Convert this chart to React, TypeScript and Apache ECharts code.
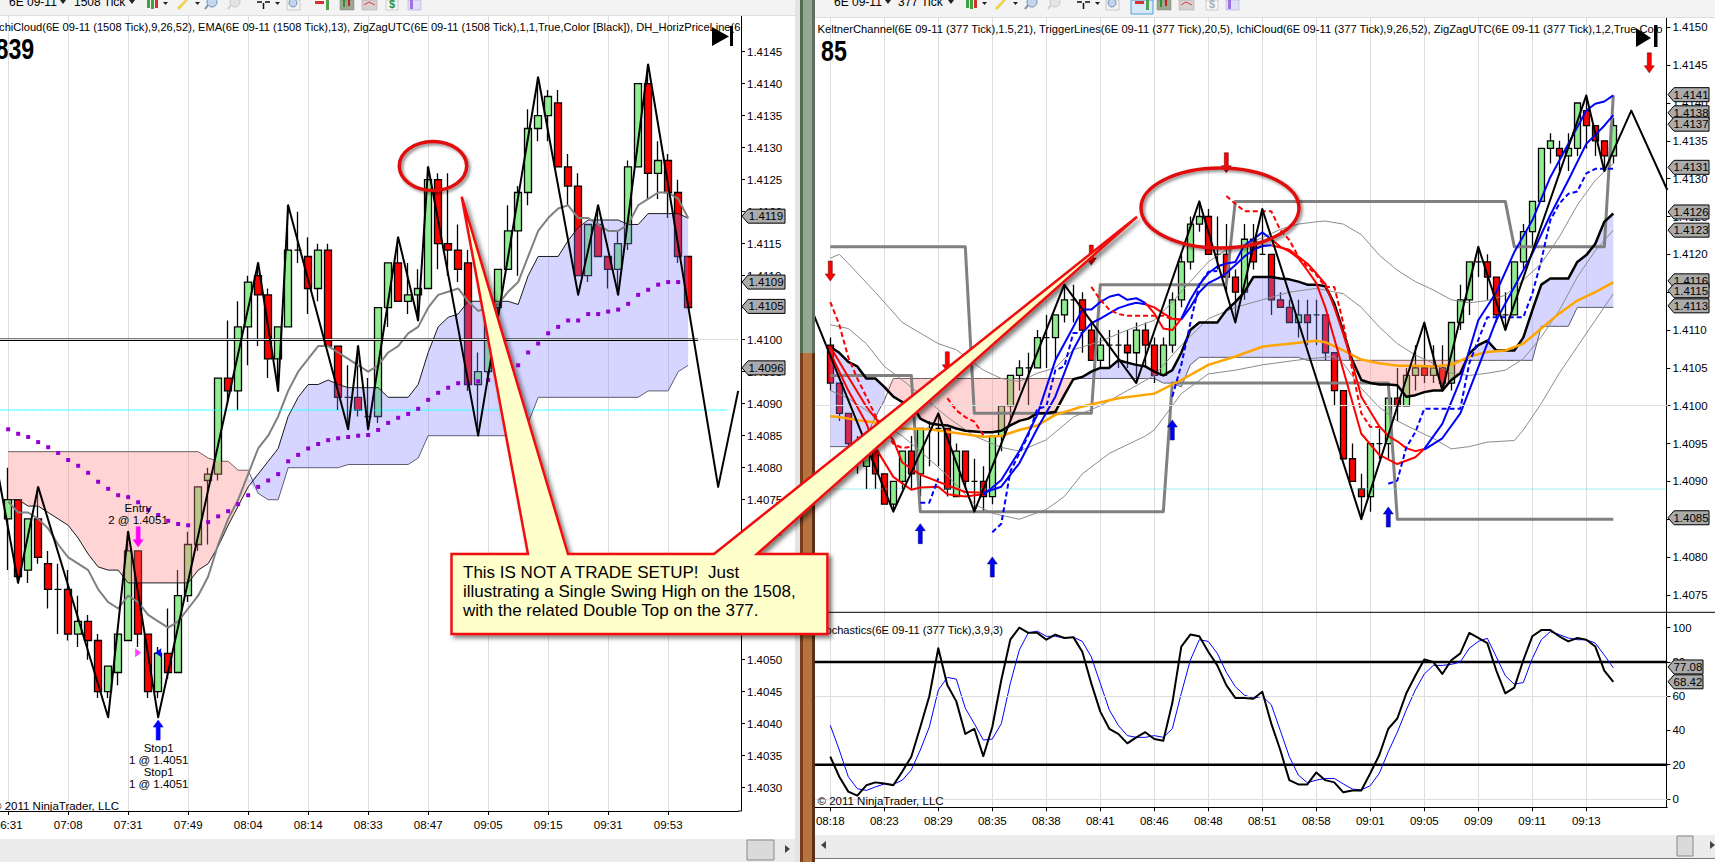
import React, { useEffect, useRef } from "react";
import * as echarts from "echarts";

const FONT = "Liberation Sans";

// ---------- Left chart (1508 Tick) ----------
const leftTickLabels = ["06:31","07:08","07:31","07:49","08:04","08:14","08:33","08:47","09:05","09:15","09:31","09:53"];
const leftGridPrices = [1.4135,1.412,1.4105,1.409,1.4075,1.406,1.4045,1.403];
const leftAxisPrices = [1.4145,1.414,1.4135,1.413,1.4125,1.412,1.4115,1.411,1.4105,1.41,1.4095,1.409,1.4085,1.408,1.4075,1.407,1.4065,1.406,1.4055,1.405,1.4045,1.404,1.4035,1.403];
// open, close, low, high
const leftCandles = [
[1.4072,1.4075,1.4064,1.408],[1.4075,1.4063,1.4062,1.4075],[1.4064,1.4072,1.4062,1.4072],[1.4072,1.4066,1.4065,1.4077],
[1.4065,1.4061,1.4058,1.4067],[1.4061,1.4061,1.4054,1.4065],[1.4061,1.4054,1.4053,1.4064],[1.4054,1.4056,1.4052,1.406],
[1.4056,1.4053,1.405,1.4057],[1.4053,1.4045,1.4044,1.4054],[1.4045,1.4049,1.4044,1.4049],[1.4048,1.4054,1.4046,1.4054],
[1.4053,1.4067,1.4053,1.407],[1.4067,1.4054,1.4052,1.4067],[1.4054,1.4045,1.4044,1.4054],[1.4045,1.4051,1.4044,1.4052],
[1.4051,1.4048,1.4047,1.4058],[1.4048,1.406,1.4048,1.4064],[1.406,1.4068,1.4059,1.407],[1.4068,1.4077,1.4067,1.4077],
[1.4078,1.4079,1.4068,1.408],[1.4079,1.4094,1.4078,1.4094],[1.4094,1.4092,1.409,1.4103],[1.4092,1.4102,1.4089,1.4106],
[1.4102,1.4109,1.4096,1.411],[1.411,1.4107,1.4099,1.4112],[1.4107,1.4097,1.4094,1.4108],[1.4097,1.4102,1.4092,1.4102],
[1.4102,1.4114,1.4102,1.4121],[1.4114,1.4114,1.4112,1.412],[1.4113,1.4108,1.4104,1.4116],[1.4108,1.4114,1.4106,1.4115],
[1.4114,1.4099,1.4099,1.4115],[1.4099,1.4091,1.4089,1.4099],[1.4091,1.4091,1.4086,1.4096],[1.4091,1.4089,1.4088,1.4099],
[1.4088,1.4088,1.4086,1.4094],[1.4088,1.4105,1.4087,1.4105],[1.4105,1.4112,1.4102,1.4112],[1.4112,1.4106,1.4106,1.4116],
[1.4106,1.4107,1.4104,1.4112],[1.4107,1.4108,1.4103,1.4111],[1.4108,1.4125,1.4108,1.4127],[1.4125,1.4115,1.4111,1.4126],
[1.4115,1.4114,1.411,1.4126],[1.4114,1.4111,1.4109,1.4118],[1.4112,1.4093,1.4092,1.4114],[1.4093,1.4095,1.4086,1.4098],
[1.4095,1.4105,1.4094,1.4105],[1.4105,1.4111,1.4104,1.4111],[1.4111,1.4117,1.4111,1.4121],[1.4117,1.4123,1.411,1.4124],
[1.4123,1.4133,1.4121,1.4136],[1.4133,1.4135,1.4131,1.4141],[1.4135,1.4138,1.4131,1.4139],[1.4137,1.4127,1.4127,1.4139],
[1.4127,1.4124,1.4121,1.4129],[1.4124,1.411,1.411,1.4126],[1.411,1.4118,1.4109,1.4118],[1.4118,1.4113,1.4113,1.4121],
[1.4113,1.4111,1.4108,1.4113],[1.4111,1.4115,1.4107,1.4117],[1.4115,1.4127,1.4114,1.4128],[1.4127,1.414,1.4127,1.414],
[1.414,1.4126,1.4122,1.4143],[1.4126,1.4128,1.4122,1.4131],[1.4128,1.4123,1.4119,1.4129],[1.4123,1.4113,1.4112,1.4125],
[1.4113,1.4105,1.4105,1.4113]];
const leftZigZag = [[-1,1.4079],[1,1.4062],[3,1.4077],[10,1.4041],[12,1.407],[15,1.4041],[25,1.4112],[27,1.4092],[28,1.4121],[34,1.4086],[35,1.4099],[36,1.4086],[39,1.4116],[41,1.4103],[42,1.4127],[47,1.4085],[53,1.4141],[57,1.4107],[59,1.4121],[61,1.4107],[64,1.4143],[71,1.4077],[73,1.4092]];
const leftEma = [1.40747,1.4073,1.4073,1.4072,1.40705,1.4068,1.4066,1.4065,1.4064,1.4061,1.4059,1.4058,1.406,1.4059,1.4057,1.4056,1.4055,1.4056,1.4058,1.406,1.4063,1.4068,1.4072,1.4075,1.4079,1.4083,1.4085,1.4088,1.4092,1.4095,1.4097,1.4099,1.4099,1.4098,1.4097,1.4096,1.4095,1.4096,1.4098,1.4099,1.4101,1.4102,1.4105,1.4107,1.41075,1.4108,1.4106,1.41045,1.4105,1.41055,1.41075,1.4109,1.4113,1.4117,1.4119,1.41205,1.4121,1.4119,1.4119,1.4118,1.4117,1.4117,1.4118,1.4121,1.4122,1.4123,1.4123,1.4122,1.4119];
const leftA = [1.4075,1.4075,1.4074,1.4074,1.4073,1.4072,1.4071,1.4069,1.40665,1.40645,1.4064,1.4064,1.4062,1.4062,1.4062,1.4062,1.4062,1.4062,1.4062,1.4064,1.4065,1.40677,1.4071,1.4074,1.4077,1.4079,1.4081,1.4083,1.4088,1.4091,1.4093,1.4093,1.40937,1.4093,1.40925,1.40925,1.40925,1.40925,1.4091,1.4091,1.4091,1.4093,1.4098,1.4102,1.41035,1.4104,1.4106,1.4106,1.4106,1.4106,1.4106,1.41055,1.411,1.4113,1.4113,1.4113,1.41155,1.41175,1.41187,1.41187,1.41187,1.41187,1.4118,1.4118,1.41197,1.41197,1.41197,1.41197,1.4119];
const leftB = [1.40825,1.40825,1.40825,1.40825,1.40825,1.40825,1.40825,1.40825,1.40825,1.40825,1.40825,1.40825,1.40825,1.40825,1.40825,1.40825,1.40825,1.40825,1.40825,1.40825,1.40815,1.4081,1.4081,1.40796,1.40796,1.4076,1.4075,1.4075,1.408,1.408,1.408,1.408,1.408,1.408,1.40805,1.40805,1.40805,1.40805,1.40805,1.40805,1.40805,1.40815,1.4085,1.4085,1.4085,1.4085,1.4085,1.4085,1.4085,1.4085,1.4085,1.4085,1.4087,1.4091,1.4091,1.4091,1.4091,1.4091,1.4091,1.4091,1.4091,1.4091,1.4091,1.4091,1.4092,1.4092,1.4092,1.4095,1.4096];
const leftDots = [[0,1.4086],[1,1.40853],[2,1.40848],[3,1.4084],[4,1.40832],[5,1.40823],[6,1.40812],[7,1.40803],[8,1.40792],[9,1.40778],[10,1.40767],[11,1.40757],[12,1.40754],[13,1.40746],[14,1.40734],[15,1.40726],[16,1.40717],[17,1.40712],[18,1.4071],[20,1.40715],[21,1.40724],[22,1.40732],[23,1.40743],[24,1.40757],[25,1.4077],[26,1.4078],[27,1.4079],[28,1.4081],[29,1.4082],[30,1.4083],[31,1.40837],[32,1.40843],[33,1.40846],[34,1.40848],[35,1.4085],[36,1.40851],[37,1.40859],[38,1.4087],[39,1.40878],[40,1.40884],[41,1.40892],[42,1.40906],[43,1.40917],[44,1.40925],[45,1.40932],[46,1.40932],[47,1.40935],[48,1.40937],[51,1.4096],[52,1.4098],[53,1.40994],[54,1.4101],[55,1.4102],[56,1.4103],[57,1.4103],[58,1.4104],[59,1.4104],[60,1.41044],[61,1.41047],[62,1.41056],[63,1.4107],[64,1.41078],[65,1.41086],[66,1.4109],[67,1.4109]];
const leftTagLabels = ["1.4119","1.4109","1.4105","1.4096"];
const leftTagPositions = [1.41193,1.4109,1.41052,1.40956];

// ---------- Right chart (377 Tick) ----------
const rightTickLabels = ["08:18","08:23","08:29","08:35","08:38","08:41","08:46","08:48","08:51","08:58","09:01","09:05","09:09","09:11","09:13"];
const rightGridPrices = [1.4135,1.412,1.4105,1.409,1.4075];
const rightAxisPrices = [1.415,1.4145,1.414,1.4135,1.413,1.4125,1.412,1.4115,1.411,1.4105,1.41,1.4095,1.409,1.4085,1.408,1.4075];
const rightCandles = [
[1.4108,1.4103,1.4102,1.4109],[1.4103,1.4099,1.4098,1.4103],[1.4099,1.4095,1.4094,1.4099],[1.4095,1.4093,1.4091,1.4096],
[1.4092,1.4094,1.4089,1.4095],[1.4094,1.4091,1.4089,1.4094],[1.4091,1.4087,1.4087,1.4091],[1.4087,1.409,1.4086,1.409],
[1.409,1.4094,1.4089,1.4094],[1.4094,1.4091,1.4089,1.4096],[1.4091,1.4097,1.4088,1.4097],[1.4097,1.4097,1.4092,1.4098],
[1.4097,1.4097,1.4092,1.4099],[1.4097,1.4089,1.4088,1.4097],[1.4088,1.4094,1.4088,1.4095],[1.4094,1.409,1.4089,1.4094],
[1.409,1.409,1.4086,1.4093],[1.409,1.4088,1.4086,1.4092],[1.4088,1.4096,1.4087,1.4096],[1.4096,1.41,1.4094,1.41],
[1.41,1.4104,1.4098,1.4104],[1.4104,1.4105,1.4102,1.4106],[1.4105,1.4105,1.41,1.4107],[1.4105,1.4109,1.4105,1.4110],
[1.4109,1.4109,1.4105,1.4112],[1.4109,1.4112,1.4106,1.4112],[1.4112,1.4114,1.4111,1.4116],[1.4114,1.4114,1.4111,1.4116],
[1.4114,1.411,1.4107,1.4115],[1.411,1.4106,1.4106,1.4111],[1.4106,1.4108,1.4105,1.4109],[1.4108,1.4108,1.4105,1.411],
[1.4108,1.4108,1.4105,1.411],[1.4108,1.4107,1.4105,1.411],[1.4107,1.411,1.4103,1.4111],[1.411,1.4108,1.4105,1.4111],
[1.4108,1.4104,1.4103,1.4109],[1.4104,1.4108,1.4104,1.4109],[1.4108,1.4114,1.4107,1.4115],[1.4114,1.4119,1.4113,1.412],
[1.4119,1.4124,1.4118,1.4125],[1.4124,1.4125,1.4123,1.4127],[1.4125,1.412,1.412,1.4126],[1.412,1.412,1.4118,1.4125],
[1.412,1.4117,1.4115,1.4124],[1.4117,1.4115,1.4111,1.4118],[1.4115,1.4122,1.4114,1.4124],[1.4122,1.4119,1.4118,1.4124],
[1.412,1.412,1.412,1.4126],[1.412,1.4114,1.4112,1.412],[1.4114,1.4113,1.4113,1.4115],[1.4113,1.4111,1.4111,1.4114],
[1.4111,1.4112,1.4109,1.4114],[1.4112,1.4111,1.4108,1.4114],[1.4112,1.4112,1.4108,1.4114],[1.4112,1.4107,1.4106,1.4112],
[1.4107,1.4102,1.41,1.4107],[1.4102,1.4093,1.4093,1.4102],[1.4093,1.409,1.409,1.4095],[1.4089,1.4088,1.4085,1.4091],
[1.4088,1.4095,1.4086,1.4095],[1.4095,1.4095,1.4093,1.4097],[1.4095,1.4101,1.4093,1.4101],[1.4101,1.41,1.4098,1.4105],
[1.41,1.4104,1.41,1.4105],[1.4104,1.4105,1.4102,1.4108],[1.4105,1.4104,1.4103,1.4111],[1.4104,1.4105,1.4103,1.4108],
[1.4105,1.4103,1.4102,1.4108],[1.4103,1.4111,1.4102,1.4111],[1.4111,1.4114,1.411,1.4116],[1.4114,1.4119,1.4112,1.4119],
[1.4119,1.4119,1.4117,1.4121],[1.4119,1.4117,1.4114,1.412],[1.4117,1.4112,1.4111,1.4117],[1.4112,1.4112,1.411,1.4115],
[1.4112,1.4119,1.4112,1.4119],[1.4119,1.4123,1.4118,1.4124],[1.4123,1.4127,1.4121,1.4127],[1.4127,1.4134,1.4127,1.4134],
[1.4134,1.4135,1.4132,1.4136],[1.4134,1.4133,1.4131,1.4135],[1.4133,1.4134,1.4131,1.4136],[1.4134,1.414,1.4133,1.414],
[1.4139,1.4137,1.4134,1.4141],[1.4137,1.4135,1.4133,1.4137],[1.4135,1.4133,1.4131,1.4135],[1.4133,1.4137,1.4132,1.4138]];
const rightZigZag = [[-2,1.41125],[7,1.4086],[12,1.4099],[16,1.4086],[26,1.4116],[34,1.4103],[41,1.4127],[45,1.4111],[48,1.4126],[59,1.4085],[66,1.4111],[68,1.4102],[72,1.4121],[75,1.411],[84,1.4141],[86,1.4131],[89,1.4139],[93,1.41285]];
const rightA = [1.41078,1.4107,1.41058,1.41052,1.41036,1.41036,1.41025,1.41012,1.41005,1.41003,1.40983,1.40977,1.40975,1.40974,1.4097,1.40967,1.40966,1.40965,1.40965,1.40967,1.40974,1.4098,1.40983,1.4099,1.4099,1.40992,1.41014,1.41035,1.41038,1.41045,1.4105,1.4105,1.4106,1.41057,1.41054,1.41052,1.41045,1.4104,1.41047,1.4107,1.411,1.4111,1.4111,1.4111,1.41126,1.41137,1.4115,1.4117,1.4117,1.4117,1.41168,1.41167,1.41164,1.4116,1.4116,1.41158,1.41135,1.41098,1.4106,1.41034,1.4103,1.41028,1.41028,1.41027,1.41012,1.41014,1.41018,1.4102,1.4102,1.41034,1.41043,1.41069,1.4108,1.41086,1.41073,1.41073,1.41073,1.4109,1.41126,1.4116,1.41168,1.41168,1.41168,1.4119,1.41199,1.41214,1.41243,1.41254];
const rightB = [1.40946,1.40946,1.40946,1.40946,1.40959,1.40985,1.41007,1.41036,1.41036,1.41036,1.41036,1.41036,1.41036,1.41036,1.41036,1.41036,1.41036,1.41036,1.41036,1.41036,1.41036,1.41036,1.41036,1.41036,1.41036,1.41036,1.41036,1.41036,1.41036,1.41036,1.41036,1.41036,1.41036,1.41036,1.41036,1.41036,1.41036,1.4103,1.4103,1.41025,1.41054,1.41064,1.41064,1.41064,1.41064,1.41064,1.41064,1.41064,1.41064,1.41064,1.41064,1.41064,1.41064,1.4106,1.4106,1.4106,1.4106,1.4106,1.4106,1.4106,1.4106,1.4106,1.4106,1.4106,1.4106,1.4106,1.4106,1.4106,1.4106,1.4106,1.4106,1.4106,1.4106,1.4106,1.4106,1.4106,1.4106,1.4106,1.4106,1.41105,1.41105,1.41105,1.41105,1.4113,1.4113,1.4113,1.4113,1.4113];
const rightStepUpper = [[0,1.4121],[15,1.4121],[16,1.4099],[29,1.4099],[30,1.4116],[44,1.4116],[45,1.4127],[75,1.4127],[76,1.4121],[86,1.4121],[87,1.4141]];
const rightStepLower = [[0,1.4104],[9,1.4104],[10,1.4086],[37,1.4086],[38,1.4103],[62,1.4103],[63,1.4085],[87,1.4085]];
const keltnerUpper = [[0,1.41195],[1,1.412],[2,1.41188],[5,1.4115],[8,1.4111],[12,1.41082],[14,1.41074],[17,1.41047],[19,1.41036],[21,1.41032],[23,1.41043],[25,1.4105],[27,1.41074],[30,1.41085],[33,1.411],[36,1.41113],[38,1.41137],[40,1.41164],[42,1.4119],[44,1.41206],[46,1.41212],[48,1.41222],[50,1.41233],[52,1.4124],[54,1.41243],[55,1.41244],[57,1.4124],[59,1.41226],[61,1.41199],[63,1.41179],[65,1.41164],[67,1.41153],[69,1.4114],[71,1.41136],[73,1.41139],[75,1.41146],[77,1.41166],[79,1.41188],[81,1.41223],[83,1.41265],[85,1.41298],[87,1.4132]];
const keltnerMiddle = [[0,1.41107],[2,1.41102],[4,1.41082],[6,1.41052],[8,1.41034],[10,1.41015],[13,1.40985],[16,1.4096],[19,1.40945],[21,1.4094],[24,1.40955],[27,1.40985],[30,1.41],[33,1.4102],[36,1.4104],[39,1.4108],[42,1.41115],[45,1.4113],[48,1.4114],[51,1.4115],[54,1.41155],[57,1.41148],[59,1.4113],[61,1.41104],[63,1.41082],[65,1.41067],[67,1.41056],[69,1.41043],[71,1.4104],[73,1.41043],[75,1.41047],[77,1.41062],[79,1.41091],[81,1.41126],[83,1.4117],[85,1.41205],[87,1.41232]];
const keltnerLower = [[0,1.4102],[2,1.4101],[4,1.40994],[6,1.40975],[8,1.4096],[10,1.4094],[13,1.40908],[16,1.4087],[18,1.40858],[21,1.4085],[24,1.40863],[26,1.4088],[28,1.4091],[31,1.40937],[35,1.4096],[36,1.40968],[39,1.41016],[42,1.41042],[45,1.41047],[48,1.41054],[53,1.41062],[56,1.41065],[57,1.41056],[59,1.41023],[61,1.40998],[63,1.4098],[65,1.40968],[67,1.40957],[69,1.40943],[71,1.40946],[73,1.40952],[76,1.40954],[77,1.40968],[79,1.41003],[81,1.41043],[83,1.41078],[85,1.41113],[87,1.41148]];
const orangeLine = [[0,1.40986],[1,1.40985],[3,1.40981],[5,1.40978],[8,1.4097],[11,1.40969],[14,1.40964],[17,1.40959],[19,1.4096],[21,1.40968],[23,1.40974],[25,1.40988],[28,1.40999],[32,1.4101],[36,1.41016],[39,1.41034],[42,1.41054],[45,1.41065],[48,1.41078],[51,1.41082],[54,1.41086],[55,1.41084],[57,1.41073],[59,1.41061],[61,1.41056],[63,1.41053],[65,1.41053],[67,1.41052],[69,1.41054],[71,1.41065],[73,1.41071],[75,1.41073],[77,1.41082],[79,1.41102],[81,1.41122],[83,1.41139],[85,1.4115],[87,1.41163]];
const fastRed1 = [[0,1.4107],[2,1.4102],[4,1.40977],[5,1.40945],[7,1.40906],[9,1.40889],[10,1.40892],[12,1.40893],[13,1.40883],[15,1.4088],[17,1.40883]];
const fastBlue1 = [[17,1.40882],[19,1.40902],[21,1.4094],[23,1.40988],[25,1.4106],[27,1.41104],[28,1.41127],[29,1.41127],[30,1.41137],[31,1.41144],[32,1.41147],[33,1.4114],[34,1.41142],[35,1.41136]];
const fastRed2 = [[35,1.41136],[36,1.41122],[37,1.41102],[38,1.411],[39,1.41115]];
const fastBlue2 = [[39,1.41115],[40,1.4114],[41,1.4116],[42,1.41175],[43,1.41184],[44,1.41188],[45,1.4119],[46,1.41212],[47,1.4122],[48,1.41229],[49,1.4122]];
const fastRed3 = [[49,1.4122],[50,1.4121],[51,1.41204],[52,1.41195],[53,1.41179],[54,1.41162],[55,1.4113],[57,1.41047],[59,1.40963],[61,1.40935],[63,1.40923],[65,1.40932],[66,1.40943]];
const fastBlue3 = [[66,1.40943],[68,1.40976],[70,1.41034],[72,1.41113],[74,1.4115],[76,1.41203],[78,1.41245],[80,1.41302],[82,1.41346],[84,1.4139],[85,1.41399],[86,1.41402],[87,1.4141]];
const slowRed1 = [[0,1.41078],[2,1.41038],[4,1.40999],[6,1.40968],[7,1.40955],[8,1.40925],[10,1.40909],[13,1.40895],[15,1.40886],[17,1.40885]];
const slowBlue1 = [[17,1.40885],[19,1.40893],[21,1.40924],[23,1.4097],[25,1.41012],[27,1.41074],[28,1.41096],[29,1.41109],[30,1.41115],[31,1.41122],[32,1.41129],[33,1.41133],[34,1.41136],[35,1.41134]];
const slowRed2 = [[35,1.41134],[36,1.4113],[37,1.41122],[38,1.41115],[39,1.41114]];
const slowBlue2 = [[39,1.41114],[40,1.4113],[41,1.4115],[42,1.41162],[43,1.41168],[44,1.41175],[45,1.41186],[46,1.41197],[47,1.41206],[48,1.41211],[49,1.41212]];
const slowRed3 = [[49,1.41212],[51,1.41206],[52,1.41197],[53,1.41188],[54,1.41175],[55,1.41161],[56,1.4113],[57,1.41095],[58,1.41056],[59,1.41012],[61,1.40973],[62,1.4096],[63,1.40953],[64,1.40944],[65,1.4094],[66,1.40943]];
const slowBlue3 = [[66,1.40942],[68,1.40957],[70,1.4099],[72,1.41051],[74,1.41113],[76,1.41157],[78,1.41201],[80,1.41252],[82,1.41298],[84,1.41346],[86,1.4137],[87,1.41384]];
const dashRed = [
  [[0,1.41137],[1,1.41107],[2,1.41064],[3,1.41036],[4,1.41012],[5,1.40987],[7,1.4095],[8,1.40944],[9,1.40946]],
  [[13,1.4101],[14,1.40994],[15,1.40985],[16,1.40979],[17,1.40961]],
  [[29,1.41157],[30,1.4114],[31,1.41127],[32,1.41121],[33,1.41119],[36,1.41119],[37,1.41119],[38,1.41114],[39,1.41114]],
  [[44,1.41277],[45,1.41267],[46,1.41257],[49,1.41257],[50,1.41232],[51,1.41219],[52,1.41197],[53,1.41184],[54,1.41173],[55,1.41157],[56,1.41157],[57,1.41109],[58,1.41047],[59,1.4099],[60,1.40972],[61,1.40972]],
];
const dashBlue = [
  [[10,1.40872],[11,1.40872],[12,1.40904]],
  [[18,1.40833],[19,1.40844],[20,1.40913],[22,1.40961],[23,1.40996],[24,1.40999],[25,1.41047],[26,1.41052],[27,1.41096],[28,1.41096]],
  [[38,1.41012],[39,1.41054],[40,1.41109],[41,1.4116],[42,1.41177],[43,1.41178]],
  [[62,1.40897],[63,1.40901],[64,1.40945],[65,1.40965],[66,1.40996],[70,1.40996],[71,1.41056],[72,1.41087],[73,1.41117],[77,1.41117],[78,1.41148],[79,1.41192],[80,1.41245],[81,1.41267],[82,1.4128],[83,1.41283],[84,1.41307],[85,1.41313],[87,1.41313]],
];
const rightTagLabels = ["1.4141","1.4138","1.4137","1.4131","1.4126","1.4123","1.4116","1.4115","1.4113","1.4085"];
const rightTagPositions = [1.41411,1.41387,1.41372,1.41315,1.41256,1.41232,1.41165,1.41152,1.41132,1.40852];
const redArrows = [[0,1.41178],[13,1.41058],[29,1.41199],[44,1.41321],[91,1.41453]];
const blueArrows = [[10,1.40831],[18,1.40787],[38,1.40968],[62,1.40853]];

// ---------- Stochastics panel ----------
const stochK = [24.7,13,4.3,2,8,9.7,9,8,16,24.7,42,60,88,66.5,57,38,41,25,42,69.5,93,100,97,97,93,96,94,94.5,86,67.5,51,41,38,32.5,36,39,35,34,56,89,96,95,86,78,66.5,59,59,58.5,62.6,44,28.6,11,8.5,8.5,15.5,11,9.7,3.9,5,5,15,25.7,41,47,61.7,72,81.5,80,73,81,85,97,94,91,75,61.7,65,81,95,98.6,98.6,95,92,94,93,89,75,68.4];
const stochD = [43,28.6,13,6,5,7,8.8,8.5,11,17,28.6,42,63.6,71,70,53,44,34.4,35,44,67.5,87,97,98,95,95,94,94.5,92,83,67.5,52,43,37,36,36,37,36,41,61.7,81,93,92,85,74,65.6,60.7,58.8,60,55,40,24.7,14,9.5,11,12,12,8.8,5.8,5.3,7.8,15,27.6,39,52,63.6,73,78,78,78.6,80,88,92,93.8,83,72,67,68,82,93,97.7,96,94,93,93,91,84,76.6];
const stochAxisValues = [0,20,40,60,80,100];
const stochGridValues = [0,60];
const stochLevels = [20,80];
const stochTagLabels = ["77.08","68.42"];
const stochTagPositions = [77.08,68.42];

// ---------- Texts ----------
const leftHeader = "IchiCloud(6E 09-11 (1508 Tick),9,26,52), EMA(6E 09-11 (1508 Tick),13), ZigZagUTC(6E 09-11 (1508 Tick),1,1,True,Color [Black]), DH_HorizPriceLine(6";
const rightHeader = "KeltnerChannel(6E 09-11 (377 Tick),1.5,21), TriggerLines(6E 09-11 (377 Tick),20,5), IchiCloud(6E 09-11 (377 Tick),9,26,52), ZigZagUTC(6E 09-11 (377 Tick),1,2,True,Colo";
const stochHeader = "Stochastics(6E 09-11 (377 Tick),3,9,3)";
const copyright = "© 2011 NinjaTrader, LLC";
const calloutLines = ["This IS NOT A TRADE SETUP!  Just", "illustrating a Single Swing High on the 1508,", "with the related Double Top on the 377."];

// ---------- Helpers ----------
const LEFT_OFF = 1, RIGHT_OFF = 2;
const shift = (pairs: number[][], off: number) => pairs.map(([k, v]) => [k + off, v]);
const dense = (values: number[], off: number) => values.map((v, k) => [k + off, v]);

function cloudPieces(a: number[], b: number[]) {
  const pieces: { up: boolean; points: number[][] }[] = [];
  let up = a[0] >= b[0];
  let top = [[0, a[0]]];
  let bot = [[0, b[0]]];
  for (let k = 1; k < a.length; k++) {
    const d0 = a[k - 1] - b[k - 1];
    const d1 = a[k] - b[k];
    const nowUp = d1 === 0 ? up : d1 > 0;
    if (nowUp !== up) {
      const t = d0 / (d0 - d1);
      const x = k - 1 + t;
      const y = a[k - 1] + (a[k] - a[k - 1]) * t;
      top.push([x, y]);
      bot.push([x, y]);
      pieces.push({ up, points: [...top, ...bot.slice().reverse()] });
      top = [[x, y]];
      bot = [[x, y]];
      up = nowUp;
    }
    top.push([k, a[k]]);
    bot.push([k, b[k]]);
  }
  pieces.push({ up, points: [...top, ...bot.slice().reverse()] });
  return pieces;
}

function line(name: string, ax: number, data: number[][], color: string, width: number, z: number, type: any = "solid") {
  return {
    name, type: "line", xAxisIndex: ax, yAxisIndex: ax, data, showSymbol: false, symbol: "none", z, silent: true,
    lineStyle: { color, width, type, join: "round" },
  };
}

function gridLines(ax: number, values: number[], anchor: number) {
  return {
    type: "line", xAxisIndex: ax, yAxisIndex: ax, z: 1, silent: true, symbol: "none", showSymbol: false,
    data: [[0, anchor]], lineStyle: { opacity: 0 },
    markLine: {
      silent: true, symbol: "none", animation: false, label: { show: false },
      lineStyle: { color: "#DEDEDE", width: 1, type: "solid" },
      data: values.map((v) => ({ yAxis: v })),
    },
  };
}

function candles(ax: number, rows: number[][], off: number, barWidth: number) {
  const pad = Array.from({ length: off }, () => ["-", "-", "-", "-"]);
  return {
    type: "candlestick", xAxisIndex: ax, yAxisIndex: ax, z: 2, silent: true, barWidth,
    data: [...pad, ...rows],
    itemStyle: { color: "#90EE90", color0: "#FF0000", borderColor: "#000", borderColor0: "#000", borderColorDoji: "#000", borderWidth: 1.3 },
  };
}

function cloud(ax: number, a: number[], b: number[], off: number) {
  const pieces = cloudPieces(a, b);
  return {
    type: "custom", xAxisIndex: ax, yAxisIndex: ax, z: 3, silent: true,
    data: pieces.map((p) => [off, p.points[0][1]]),
    renderItem: (params: any, api: any) => {
      const p = pieces[params.dataIndex];
      return {
        type: "polygon",
        shape: { points: p.points.map(([k, v]) => api.coord([k + off, v])) },
        style: { fill: p.up ? "rgba(128,128,255,0.33)" : "rgba(255,128,128,0.34)" },
      };
    },
  };
}

function tags(ax: number, labels: string[], positions: number[], x0: number, x1: number) {
  return {
    type: "custom", xAxisIndex: ax, yAxisIndex: ax, z: 6, silent: true, clip: false,
    data: positions.map((p) => [0, p]),
    renderItem: (params: any, api: any) => {
      const y = api.coord([0, positions[params.dataIndex]])[1];
      return {
        type: "group",
        children: [
          { type: "polygon", shape: { points: [[x0, y], [x0 + 6, y - 7], [x1, y - 7], [x1, y + 7], [x0 + 6, y + 7]] }, style: { fill: "#ABABAB", stroke: "#000", lineWidth: 1 } },
          { type: "text", style: { text: labels[params.dataIndex], x: (x0 + 5 + x1) / 2, y, fill: "#000", fontSize: 11.5, fontFamily: FONT, textAlign: "center", textVerticalAlign: "middle" } },
        ],
      };
    },
  };
}

const ARROW = "path://M5 0 L10 7 L7 7 L7 20 L3 20 L3 7 L0 7 Z";
function arrows(ax: number, data: number[][], color: string, rotate: number, border: string) {
  return {
    type: "scatter", xAxisIndex: ax, yAxisIndex: ax, z: 7, silent: true, data, symbol: ARROW, symbolSize: [10, 20], symbolRotate: rotate,
    itemStyle: { color, opacity: 1, borderColor: border, borderWidth: 0.5 },
  };
}

function xAxis(gridIndex: number, count: number, off: number, labels: string[], showLabels: boolean) {
  const isTick = (i: number) => i >= off && (i - off) % 6 === 0 && (i - off) / 6 < labels.length;
  return {
    type: "category", gridIndex, boundaryGap: false, data: Array.from({ length: count }, (_, i) => String(i)),
    axisLine: { show: showLabels, onZero: false, lineStyle: { color: "#000", width: 1 } },
    axisTick: { show: showLabels, interval: isTick, length: 4, lineStyle: { color: "#000" } },
    splitLine: { show: true, interval: isTick, lineStyle: { color: "#DEDEDE", width: 1 } },
    axisLabel: {
      show: showLabels, interval: isTick, margin: 8, color: "#000", fontSize: 11.5, fontFamily: FONT,
      formatter: (_: string, i: number) => (isTick(i) ? labels[(i - off) / 6] : ""),
    },
  };
}

function yAxis(gridIndex: number, min: number, max: number, values: number[], offset: number, digits: number) {
  return {
    type: "value", gridIndex, position: "right", min, max, offset, scale: true,
    axisLine: { show: true, onZero: false, lineStyle: { color: "#000", width: 1 } },
    axisTick: { show: true, length: 4, customValues: values, lineStyle: { color: "#000" } },
    splitLine: { show: false },
    axisLabel: { show: true, customValues: values, margin: 6, showMinLabel: true, showMaxLabel: true, color: "#000", fontSize: 11.5, fontFamily: FONT, formatter: (v: number) => v.toFixed(digits) },
  };
}

function chrome() {
  const el: any[] = [];
  const rect = (x: number, y: number, w: number, h: number, fill: string, z = 50, extra: any = {}) =>
    el.push({ type: "rect", silent: true, z, shape: { x, y, width: w, height: h }, style: { fill, ...extra } });
  const text = (t: string, x: number, y: number, size: number, z = 60, extra: any = {}) =>
    el.push({ type: "text", silent: true, z, style: { text: t, x, y, fill: "#000", fontSize: size, fontFamily: FONT, textVerticalAlign: "middle", ...extra } });
  const poly = (points: number[][], fill: string, z = 60, extra: any = {}) =>
    el.push({ type: "polygon", silent: true, z, shape: { points }, style: { fill, ...extra } });
  const seg = (x1: number, y1: number, x2: number, y2: number, stroke: string, w = 1, z = 60) =>
    el.push({ type: "line", silent: true, z, shape: { x1, y1, x2, y2 }, style: { stroke, lineWidth: w } });
  const bigNumber = (t: string, x: number, y: number) =>
    el.push({ type: "text", silent: true, z: 20, x, y, scaleX: 0.8, style: { text: t, x: 0, y: 0, fill: "#000", fontSize: 29, fontFamily: FONT, fontWeight: "bold", textVerticalAlign: "middle" } });

  // toolbars and window parts
  rect(0, 0, 795, 15, "#F3F3F3");
  rect(815, 0, 900, 17, "#F3F3F3");
  rect(0, 15, 795, 1, "#DDDDDD");
  rect(815, 17, 900, 1, "#DDDDDD");
  rect(795, 0, 5, 862, "#E4E4E4");
  rect(800, 0, 3, 353, "#4F6F4F");
  rect(803, 0, 9, 353, "#94A894");
  rect(812, 0, 3, 353, "#5F6F5F");
  rect(800, 353, 3, 509, "#7A3E1C");
  rect(803, 353, 9, 509, "#B5743F");
  rect(812, 353, 3, 509, "#5A3018");
  rect(0, 839, 795, 23, "#ECECEC");
  rect(815, 835, 900, 23, "#ECECEC");
  rect(815, 858, 900, 1, "#777777");
  rect(747, 840, 27, 20, "#DADADA", 55, { stroke: "#8A8A8A" });
  rect(1677, 836, 16, 20, "#DADADA", 55, { stroke: "#8A8A8A" });
  poly([[785, 845], [790, 849], [785, 853]], "#444");
  poly([[826, 841], [821, 845], [826, 849]], "#444");
  poly([[1710, 841], [1715, 845], [1710, 849]], "#444");

  // toolbar icons
  const toolbar = (xs: number[], dollar: string) => {
    const [candle, pencil, glass, glass2, cross, glass3, bars, chart, curve, money, list] = xs;
    // candle icon
    rect(candle, 0, 3, 8, "#3FA03F", 55);
    rect(candle + 4, 0, 3, 9, "#3FA03F", 55);
    rect(candle + 8, 0, 3, 8, "#D03030", 55);
    poly([[candle + 16, 2], [candle + 21, 2], [candle + 18.5, 5]], "#222");
    // pencil
    poly([[pencil, 8], [pencil + 8, 0], [pencil + 11, 0], [pencil + 2, 10]], "#EFD040");
    poly([[pencil + 18, 2], [pencil + 23, 2], [pencil + 20.5, 5]], "#222");
    // magnifiers
    el.push({ type: "circle", silent: true, z: 55, shape: { cx: glass + 7, cy: 2, r: 5 }, style: { fill: "#C4D6EC", stroke: "#6E8FB8", lineWidth: 1 } });
    seg(glass + 3, 5, glass, 9, "#7A8FA8", 2);
    el.push({ type: "circle", silent: true, z: 55, shape: { cx: glass2 + 7, cy: 2, r: 5 }, style: { fill: "#E4E4E4", stroke: "#C8C8C8", lineWidth: 1 } });
    seg(glass2 + 3, 5, glass2, 9, "#CCCCCC", 2);
    // crosshair
    seg(cross, 2, cross + 5, 2, "#111", 1.5);
    seg(cross + 8, 2, cross + 13, 2, "#111", 1.5);
    seg(cross + 6.5, 3, cross + 6.5, 9, "#111", 1.5);
    poly([[cross + 18, 2], [cross + 23, 2], [cross + 20.5, 5]], "#222");
    // magnifier on page
    rect(glass3, 0, 13, 10, "#F4F4F4", 55, { stroke: "#A0A0A0", lineWidth: 0.5 });
    el.push({ type: "circle", silent: true, z: 56, shape: { cx: glass3 + 6, cy: 3, r: 4 }, style: { fill: "#C4D6EC", stroke: "#6E8FB8", lineWidth: 1 } });
    // bars
    rect(bars, 1, 9, 3, "#D83030", 55);
    rect(bars + 11, 0, 3, 10, "#50A050", 55);
    rect(chart, 0, 14, 10, "#9AA890", 55, { stroke: "#808080", lineWidth: 0.5 });
    rect(chart + 3, 0, 2, 7, "#2F8F2F", 56);
    rect(chart + 8, 0, 2, 6, "#C02020", 56);
    rect(curve, 0, 15, 10, "#D8D0D0", 55, { stroke: "#A0A0A0", lineWidth: 0.5 });
    seg(curve + 2, 5, curve + 7, 2, "#D04040", 1, 56);
    seg(curve + 7, 2, curve + 13, 5, "#D04040", 1, 56);
    rect(money, 0, 12, 10, "#F8F8F8", 55, { stroke: "#A0A0A0", lineWidth: 0.5 });
    text("$", money + 3, 4, 11, 56, { fill: dollar, fontWeight: "bold" });
    rect(list, 0, 13, 10, "#E0E0F8", 55, { stroke: "#A0A0C8", lineWidth: 0.5 });
    rect(list + 2, 0, 3, 9, "#A070E0", 56);
  };
  text("6E 09-11", 9, 2, 12);
  poly([[60, 0], [66, 0], [63, 4]], "#222");
  text("1508 Tick", 74, 2, 12);
  poly([[129, 0], [135, 0], [132, 4]], "#222");
  toolbar([147, 177, 205, 228, 257, 287, 315, 340, 362, 386, 408], "#2F8F2F");
  text("6E 09-11", 834, 2, 12);
  poly([[885, 0], [891, 0], [888, 4]], "#222");
  text("377 Tick", 898, 2, 12);
  poly([[948, 0], [954, 0], [951, 4]], "#222");
  rect(1131, 0, 22, 14, "#D8E8F8", 54, { stroke: "#4FA0E0", lineWidth: 1 });
  toolbar([966, 995, 1025, 1048, 1077, 1106, 1135, 1157, 1179, 1206, 1226], "#B0B0B0");

  // axis joins and separators
  seg(738, 811, 741, 811, "#000", 1, 10);
  seg(815, 612.3, 1715, 612.3, "#000", 1, 10);
  // headers
  text(leftHeader, -4, 27, 11.1, 20);
  text(rightHeader, 817.5, 29, 11.2, 20);
  text(stochHeader, 815, 630, 11.1, 20);
  text(copyright, -7, 806, 11.5, 20);
  text(copyright, 817.5, 801, 11.5, 20);
  bigNumber("839", -4.5, 49);
  bigNumber("85", 821, 51);
  // go-to-end marks
  poly([[712, 27], [729, 36.5], [712, 46]], "#000", 20);
  rect(730, 26, 3, 20, "#000", 20);
  poly([[1636, 28], [1651, 38], [1636, 47]], "#000", 20);
  rect(1654, 25, 3.5, 22, "#000", 20);
  // trade labels
  const small = { textAlign: "center", fontSize: 11.5 };
  ([["Entry", 138, 508], ["2 @ 1.4051", 138, 520], ["Stop1", 158.7, 748], ["1 @ 1.4051", 158.7, 760], ["Stop1", 158.7, 772], ["1 @ 1.4051", 158.7, 784]] as [string, number, number][])
    .forEach(([t, x, y]) => text(t, x, y, 11.5, 20, small));
  // ellipses
  const ring = { fill: "none", stroke: "#E01010", lineWidth: 3.5, shadowColor: "rgba(0,0,0,0.45)", shadowBlur: 3, shadowOffsetX: 2, shadowOffsetY: 2 };
  el.push({ type: "ellipse", silent: true, z: 90, shape: { cx: 433, cy: 166, rx: 33.7, ry: 24.5 }, style: ring });
  el.push({ type: "ellipse", silent: true, z: 90, shape: { cx: 1220, cy: 208, rx: 79, ry: 40 }, style: ring });
  // callout
  poly([[451.5, 554], [528, 554], [461.7, 196.7], [568, 554], [714, 554], [1137, 216.7], [757, 554], [827.4, 554], [827.4, 634], [451.5, 634]], "#FFFFCC", 95,
    { stroke: "#F01010", lineWidth: 2.5, lineJoin: "miter", shadowColor: "rgba(0,0,0,0.5)", shadowBlur: 4, shadowOffsetX: 3, shadowOffsetY: 3 });
  calloutLines.forEach((t, i) => text(t, 463, 572 + i * 19.2, 17, 96));
  return el;
}

const leftDotsShifted = shift(leftDots, LEFT_OFF);

export default function App() {
  const ref = useRef<HTMLDivElement>(null);
  useEffect(() => {
    document.body.style.margin = "0";
    document.body.style.overflow = "hidden";
    const chart = echarts.init(ref.current!, null, { renderer: "svg" });
    const option: any = {
      animation: false,
      backgroundColor: "#FFFFFF",
      grid: [
        { left: -1.84, top: 15, width: 740, height: 796, outerBoundsMode: "none" },
        { left: 812.3, top: 17, width: 855, height: 595.3, outerBoundsMode: "none" },
        { left: 812.3, top: 612.3, width: 855, height: 195, outerBoundsMode: "none" },
      ],
      xAxis: [
        xAxis(0, 75, LEFT_OFF, leftTickLabels, true),
        xAxis(1, 96, RIGHT_OFF, rightTickLabels, false),
        xAxis(2, 96, RIGHT_OFF, rightTickLabels, true),
      ],
      yAxis: [
        yAxis(0, 1.402636, 1.415073, leftAxisPrices, 2.84, 4),
        yAxis(1, 1.407271, 1.415136, rightAxisPrices, -0.9, 4),
        yAxis(2, -4.85, 109, stochAxisValues, -0.9, 0),
      ],
      graphic: { elements: chrome() },
      series: [
        // left chart
        gridLines(0, leftGridPrices, 1.41),
        candles(0, leftCandles, LEFT_OFF, 7),
        line("leftB", 0, dense(leftB, LEFT_OFF), "#555555", 1, 2),
        cloud(0, leftA, leftB, LEFT_OFF),
        line("leftA", 0, dense(leftA, LEFT_OFF), "#1A1A1A", 1, 4),
        line("EMA", 0, dense(leftEma, LEFT_OFF), "#808080", 2, 4),
        { type: "scatter", xAxisIndex: 0, yAxisIndex: 0, z: 4, silent: true, data: leftDotsShifted, symbol: "rect", symbolSize: 4, itemStyle: { color: "#9400D3", opacity: 1 } },
        line("cyan", 0, [[0, 1.4089], [73, 1.4089]], "#00FFFF", 1, 4, "dotted"),
        line("hline", 0, [[0, 1.41], [70, 1.41]], "#000000", 2.5, 4),
        line("zigzag", 0, shift(leftZigZag, LEFT_OFF), "#000000", 2, 5),
        arrows(0, [[13 + LEFT_OFF, 1.40692]], "#FF00FF", 180, "#FF00FF"),
        arrows(0, [[15 + LEFT_OFF, 1.4039]], "#0000FF", 0, "#0000FF"),
        { type: "scatter", xAxisIndex: 0, yAxisIndex: 0, z: 7, silent: true, data: [[12.7 + LEFT_OFF, 1.40511]], symbol: "triangle", symbolSize: [9, 6], symbolRotate: -90, itemStyle: { color: "#FF40FF", opacity: 1 } },
        { type: "scatter", xAxisIndex: 0, yAxisIndex: 0, z: 7, silent: true, data: [[15.3 + LEFT_OFF, 1.40511]], symbol: "triangle", symbolSize: [9, 6], symbolRotate: 90, itemStyle: { color: "#0000FF", opacity: 1 } },
        tags(0, leftTagLabels, leftTagPositions, 742, 785),
        // right chart
        gridLines(1, rightGridPrices, 1.41),
        candles(1, rightCandles, RIGHT_OFF, 6),
        line("rightB", 1, dense(rightB, RIGHT_OFF), "#555555", 1, 2),
        cloud(1, rightA, rightB, RIGHT_OFF),
        line("upper", 1, shift(keltnerUpper, RIGHT_OFF), "#8C8C8C", 1, 4),
        line("middle", 1, shift(keltnerMiddle, RIGHT_OFF), "#8C8C8C", 1, 4),
        line("lower", 1, shift(keltnerLower, RIGHT_OFF), "#8C8C8C", 1, 4),
        line("stepUpper", 1, shift(rightStepUpper, RIGHT_OFF), "#808080", 3, 4),
        line("stepLower", 1, shift(rightStepLower, RIGHT_OFF), "#808080", 3, 4),
        line("rightA", 1, dense(rightA, RIGHT_OFF), "#000000", 2.5, 4),
        line("orange", 1, shift(orangeLine, RIGHT_OFF), "#FFA500", 2.5, 4),
        line("cyan2", 1, [[1, 1.4089], [95, 1.4089]], "#00FFFF", 1, 4, "dotted"),
        ...[fastRed1, fastRed2, fastRed3, slowRed1, slowRed2, slowRed3].map((d, i) => line("red" + i, 1, shift(d, RIGHT_OFF), "#FF0000", 2, 4)),
        ...[fastBlue1, fastBlue2, fastBlue3, slowBlue1, slowBlue2, slowBlue3].map((d, i) => line("blue" + i, 1, shift(d, RIGHT_OFF), "#0000FF", 2, 4)),
        ...dashRed.map((d, i) => line("dashRed" + i, 1, shift(d, RIGHT_OFF), "#FF0000", 2, 4, [5, 3])),
        ...dashBlue.map((d, i) => line("dashBlue" + i, 1, shift(d, RIGHT_OFF), "#0000FF", 2, 4, [5, 3])),
        line("zigzag2", 1, shift(rightZigZag, RIGHT_OFF), "#000000", 2, 5),
        arrows(1, shift(redArrows, RIGHT_OFF), "#FF0000", 180, "#600000"),
        arrows(1, shift(blueArrows, RIGHT_OFF), "#0000FF", 0, "#000060"),
        tags(1, rightTagLabels, rightTagPositions, 1668, 1709),
        // stochastics
        gridLines(2, stochGridValues, 50),
        ...stochLevels.map((v, i) => line("level" + i, 2, [[0, v], [95, v]], "#000000", 2.5, 3)),
        line("stochD", 2, dense(stochD, RIGHT_OFF), "#0000FF", 1, 4),
        line("stochK", 2, dense(stochK, RIGHT_OFF), "#000000", 2, 5),
        tags(2, stochTagLabels, stochTagPositions, 1668, 1703),
      ],
    };
    chart.setOption(option);
    return () => chart.dispose();
  }, []);
  return <div ref={ref} style={{ position: "absolute", left: 0, top: 0, width: 1715, height: 862 }} />;
}
